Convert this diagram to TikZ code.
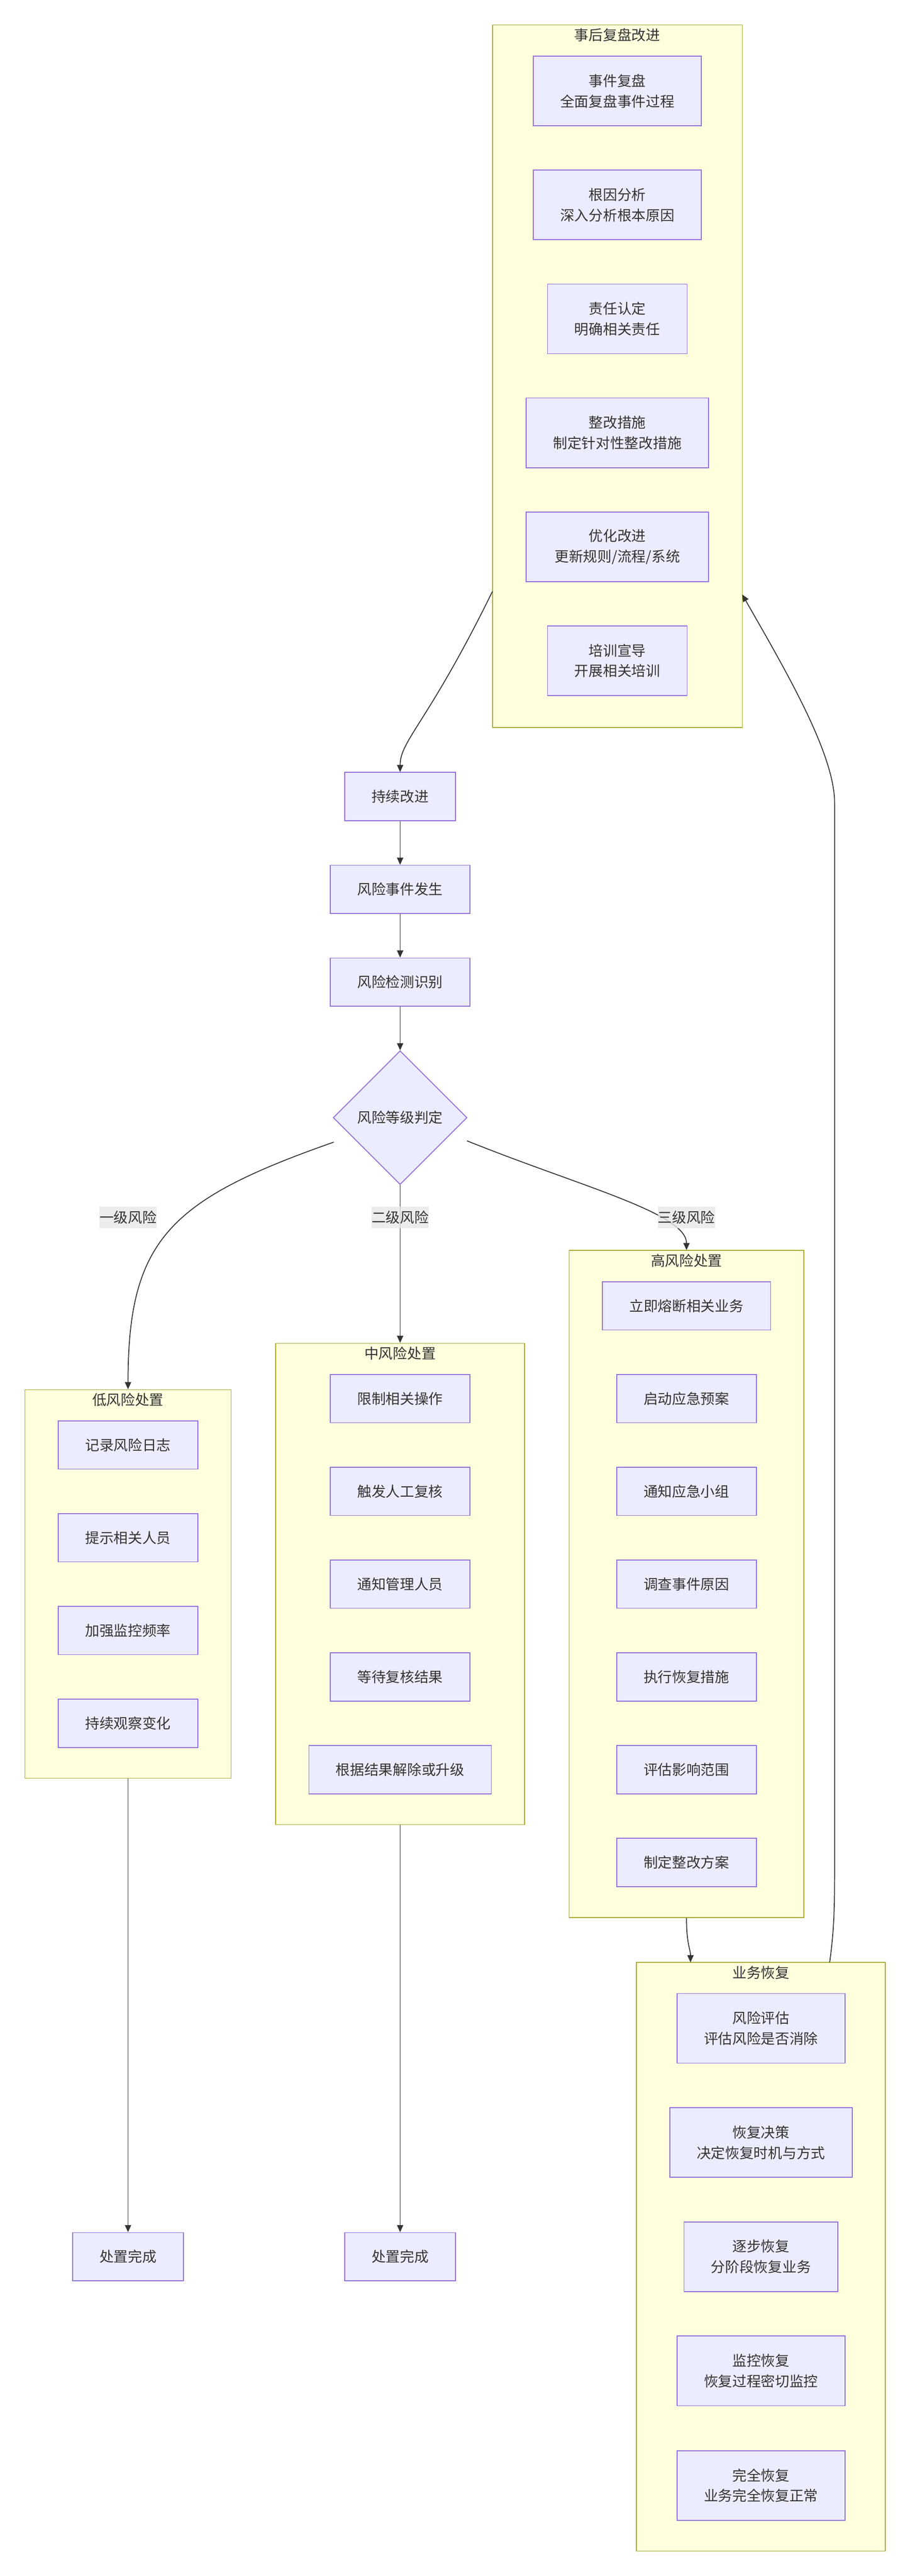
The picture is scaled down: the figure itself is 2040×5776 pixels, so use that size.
\documentclass[tikz,border=0pt]{standalone}
\usepackage{fontspec}
\setmainfont{Noto Sans CJK SC}
\usetikzlibrary{shapes.geometric,arrows.meta}
\definecolor{boxfill}{HTML}{ECECFF}
\definecolor{boxline}{HTML}{9370DB}
\definecolor{clfill}{HTML}{FFFFDE}
\definecolor{clline}{HTML}{AAAA33}
\definecolor{txt}{HTML}{333333}
\definecolor{edgec}{HTML}{333333}
\definecolor{lblbg}{HTML}{E8E8E8}
\begin{document}
\begin{tikzpicture}[x=0.5pt,y=-0.5pt,
  every node/.style={font=\fontsize{16pt}{23pt}\selectfont, text=txt},
  box/.style={draw=boxline, fill=boxfill, line width=1pt, inner sep=0pt, minimum width=#1, align=center},
  sbox/.style={box=#1, minimum height=54pt},
  dbox/.style={box=#1, minimum height=78pt},
  cluster/.style={draw=clline, fill=clfill, line width=1pt, inner sep=0pt},
  ctitle/.style={inner sep=0pt},
  lbl/.style={fill=lblbg, fill opacity=0.8, text opacity=1, inner xsep=0pt, inner ysep=0pt, minimum height=24pt},
  conn/.style={draw=edgec, line width=1pt, -{Triangle[length=8pt,width=7pt]}},
]
\path[use as bounding box, fill=white] (0,0) rectangle (2040,5776);

% clusters
\node[cluster, minimum width=280pt, minimum height=787.5pt] (post) at (1384,843.5) {};
\node[ctitle] (postT) at (1384,79) {事后复盘改进};
\node[cluster, minimum width=231pt, minimum height=435.5pt] (low) at (287,3551.5) {};
\node[ctitle] (lowT) at (287,3139) {低风险处置};
\node[cluster, minimum width=279pt, minimum height=539.5pt] (mid) at (897,3551.5) {};
\node[ctitle] (midT) at (897,3035) {中风险处置};
\node[cluster, minimum width=263pt, minimum height=748pt] (high) at (1539,3552) {};
\node[ctitle] (highT) at (1539,2827) {高风险处置};
\node[cluster, minimum width=279pt, minimum height=660pt] (rec) at (1706,5060) {};
\node[ctitle] (recT) at (1706,4423) {业务恢复};

% post-event review
\node[dbox=188.5pt] (p1) at (1384,204) {事件复盘\\全面复盘事件过程};
\node[dbox=188.5pt] (p2) at (1384,459.5) {根因分析\\深入分析根本原因};
\node[dbox=156.5pt] (p3) at (1384,715) {责任认定\\明确相关责任};
\node[dbox=204.5pt] (p4) at (1384,970.5) {整改措施\\制定针对性整改措施};
\node[dbox=204.5pt] (p5) at (1384,1226) {优化改进\\更新规则/流程/系统};
\node[dbox=156.5pt] (p6) at (1384,1481.5) {培训宣导\\开展相关培训};

% main chain
\node[sbox=124.5pt] (c1) at (897,1786) {持续改进};
\node[sbox=156.5pt] (c2) at (897,1994) {风险事件发生};
\node[sbox=156.5pt] (c3) at (897,2202) {风险检测识别};
\node[diamond, aspect=1, draw=boxline, fill=boxfill, line width=1pt, inner sep=0pt, minimum width=150pt, minimum height=150pt] (dia) at (897,2506) {风险等级判定};

% low
\node[sbox=156.5pt] (l1) at (287,3240) {记录风险日志};
\node[sbox=156.5pt] (l2) at (287,3448) {提示相关人员};
\node[sbox=156.5pt] (l3) at (287,3656) {加强监控频率};
\node[sbox=156.5pt] (l4) at (287,3864) {持续观察变化};

% mid
\node[sbox=156.5pt] (m1) at (897,3136) {限制相关操作};
\node[sbox=156.5pt] (m2) at (897,3344) {触发人工复核};
\node[sbox=156.5pt] (m3) at (897,3552) {通知管理人员};
\node[sbox=156.5pt] (m4) at (897,3760) {等待复核结果};
\node[sbox=204.5pt] (m5) at (897,3968) {根据结果解除或升级};

% high
\node[sbox=188.5pt] (h1) at (1539,2928) {立即熔断相关业务};
\node[sbox=156.5pt] (h2) at (1539,3136) {启动应急预案};
\node[sbox=156.5pt] (h3) at (1539,3344) {通知应急小组};
\node[sbox=156.5pt] (h4) at (1539,3552) {调查事件原因};
\node[sbox=156.5pt] (h5) at (1539,3760) {执行恢复措施};
\node[sbox=156.5pt] (h6) at (1539,3968) {评估影响范围};
\node[sbox=156.5pt] (h7) at (1539,4176) {制定整改方案};

% recovery
\node[dbox=188.5pt] (r1) at (1706,4548) {风险评估\\评估风险是否消除};
\node[dbox=204.5pt] (r2) at (1706,4804) {恢复决策\\决定恢复时机与方式};
\node[dbox=172.5pt] (r3) at (1706,5060) {逐步恢复\\分阶段恢复业务};
\node[dbox=188.5pt] (r4) at (1706,5316) {监控恢复\\恢复过程密切监控};
\node[dbox=188.5pt] (r5) at (1706,5573) {完全恢复\\业务完全恢复正常};

% done nodes
\node[sbox=124.5pt] (d1) at (287,5060) {处置完成};
\node[sbox=124.5pt] (d2) at (897,5060) {处置完成};

% connector endpoints
\coordinate (postL) at (1104,1326);
\coordinate (postR) at (1664,1333);
\coordinate (diaL) at (748,2561);
\coordinate (diaR) at (1047,2558);
\coordinate (recIn) at (1548,4400);
\coordinate (recOut) at (1860,4400);

% connectors
\draw[conn] (postL) .. controls (960,1620) and (897,1660) .. (c1.north);
\draw[conn] (c1) -- (c2);
\draw[conn] (c2) -- (c3);
\draw[conn] (c3) -- (dia);
\draw[conn] (diaL) .. controls (380,2690) and (287,2780) .. (low.north);
\draw[conn] (dia.south) -- (mid.north);
\draw[conn] (diaR) .. controls (1300,2660) and (1539,2720) .. (high.north);
\draw[conn] (low.south) -- (d1.north);
\draw[conn] (mid.south) -- (d2.north);
\draw[conn] (high.south) .. controls (1539,4360) and (1548,4370) .. (recIn);
\draw[conn] (recOut) .. controls (1868,4340) and (1871,4300) .. (1871,4200) -- (1871,1800) .. controls (1871,1690) and (1761,1503) .. (postR);

% edge labels
\node[lbl] (e1) at (287,2730) {一级风险};
\node[lbl] (e2) at (897,2730) {二级风险};
\node[lbl] (e3) at (1539,2730) {三级风险};
\end{tikzpicture}
\end{document}
